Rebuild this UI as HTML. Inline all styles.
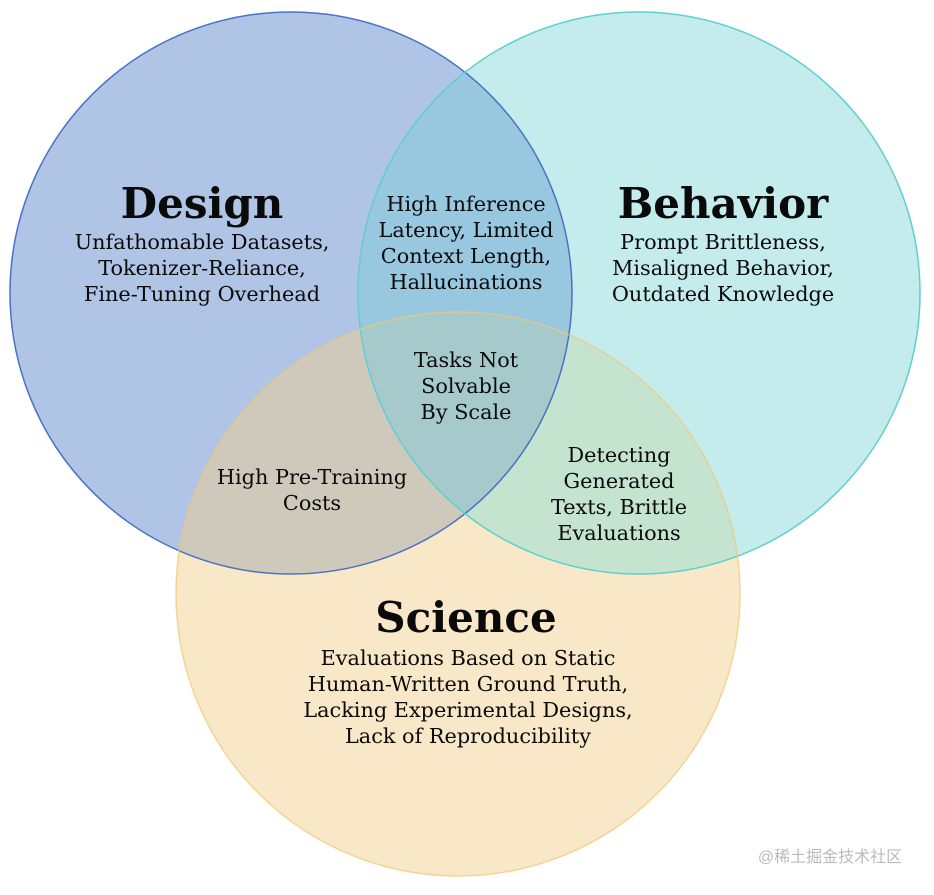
<!DOCTYPE html>
<html><head><style>
html,body{margin:0;padding:0;background:#fff;}
svg text{font-family:"DejaVu Serif","Liberation Serif",serif;fill:#0a0a0a;text-anchor:middle;}
.t{font-size:42px;font-weight:bold;}
.b{font-size:20.8px;}
</style></head><body>
<svg width="934" height="890" viewBox="0 0 934 890" xmlns="http://www.w3.org/2000/svg">
<defs>
<clipPath id="cD"><circle cx="291" cy="293" r="281"/></clipPath>
<clipPath id="cB"><circle cx="639" cy="293" r="281"/></clipPath>
<clipPath id="cS"><circle cx="458" cy="594" r="282"/></clipPath>
</defs>
<rect width="934" height="890" fill="#fff"/>
<circle cx="291" cy="293" r="281" fill="#b0c4e6"/>
<circle cx="639" cy="293" r="281" fill="#c4ecec"/>
<circle cx="458" cy="594" r="282" fill="#f9e8c8"/>
<circle cx="291" cy="293" r="281" fill="#98c8e0" clip-path="url(#cB)"/>
<circle cx="291" cy="293" r="281" fill="#cfc9bc" clip-path="url(#cS)"/>
<circle cx="639" cy="293" r="281" fill="#c4e4d0" clip-path="url(#cS)"/>
<g clip-path="url(#cS)"><circle cx="291" cy="293" r="281" fill="#a6cacc" clip-path="url(#cB)"/></g>
<circle cx="291" cy="293" r="281" fill="none" stroke="#4a72c4" stroke-width="1.5"/>
<circle cx="639" cy="293" r="281" fill="none" stroke="#5fcfcf" stroke-width="1.5"/>
<circle cx="458" cy="594" r="282" fill="none" stroke="#f0c870" stroke-width="1.5" stroke-opacity="0.7"/>

<text class="t" x="202" y="218">Design</text>
<text class="b" x="202" y="249">Unfathomable Datasets,</text>
<text class="b" x="202" y="275">Tokenizer-Reliance,</text>
<text class="b" x="202" y="301">Fine-Tuning Overhead</text>

<text class="t" x="723" y="218">Behavior</text>
<text class="b" x="723" y="249">Prompt Brittleness,</text>
<text class="b" x="723" y="275">Misaligned Behavior,</text>
<text class="b" x="723" y="301">Outdated Knowledge</text>

<text class="b" x="466" y="211">High Inference</text>
<text class="b" x="466" y="237">Latency, Limited</text>
<text class="b" x="466" y="263">Context Length,</text>
<text class="b" x="466" y="289">Hallucinations</text>

<text class="b" x="466" y="367">Tasks Not</text>
<text class="b" x="466" y="393">Solvable</text>
<text class="b" x="466" y="419">By Scale</text>

<text class="b" x="312" y="484">High Pre-Training</text>
<text class="b" x="312" y="510">Costs</text>

<text class="b" x="619" y="462">Detecting</text>
<text class="b" x="619" y="488">Generated</text>
<text class="b" x="619" y="514">Texts, Brittle</text>
<text class="b" x="619" y="540">Evaluations</text>

<text class="t" x="466" y="632">Science</text>
<text class="b" x="468" y="665">Evaluations Based on Static</text>
<text class="b" x="468" y="691">Human-Written Ground Truth,</text>
<text class="b" x="468" y="717">Lacking Experimental Designs,</text>
<text class="b" x="468" y="743">Lack of Reproducibility</text>

<text x="830" y="862" style="font-family:'Liberation Sans','Noto Sans CJK SC',sans-serif;font-size:16px;fill:#bbb;">@稀土掘金技术社区</text>
</svg>
</body></html>
